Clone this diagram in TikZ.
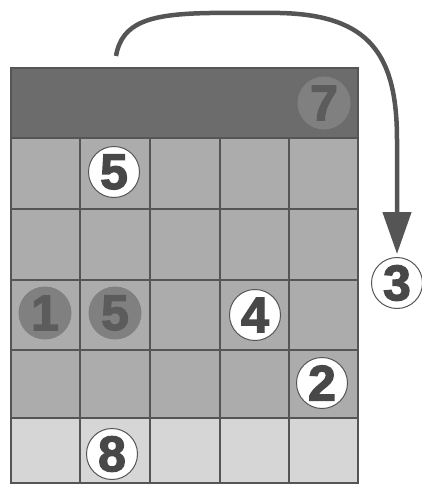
\documentclass[tikz,border=0pt]{standalone}
\usepackage{fontspec}
\setmainfont{Liberation Sans}
\newfontfamily\chipfont[FakeBold=2.5]{Liberation Sans Bold}
\usetikzlibrary{arrows.meta,positioning}
\definecolor{gridgray}{RGB}{85,85,85}
\definecolor{toprow}{RGB}{108,108,108}
\definecolor{midrow}{RGB}{172,172,172}
\definecolor{lowrow}{RGB}{214,214,214}
\definecolor{digitgray}{RGB}{72,72,72}
\definecolor{dimdot}{RGB}{128,128,128}
\definecolor{dimdigit}{RGB}{92,92,92}

\begin{document}
\begin{tikzpicture}[x=1pt,y=-1pt,
    every node/.style={font=\fontsize{50}{50}\selectfont\chipfont},
    chip/.style={circle,draw=gridgray,line width=1pt,fill=white,
                 minimum size=51pt,inner sep=0pt,text=digitgray},
    dimchip/.style={circle,fill=dimdot,minimum size=53pt,inner sep=0pt,
                    text=dimdigit}]
  \useasboundingbox (0,0) rectangle (421,487);
  % --- row fills (dark top row, grey body, light bottom row) ---
  \fill[toprow] (11,68)  rectangle (358,138);
  \fill[midrow] (11,138) rectangle (358,418);
  \fill[lowrow] (11,418) rectangle (358,483);
  % --- grid lines ---
  \foreach \x in {80,150,220,289}
    \draw[gridgray,line width=2.5pt] (\x,138) -- (\x,483);
  \foreach \y in {138,209,280,350,418}
    \draw[gridgray,line width=2.5pt] (11,\y) -- (358,\y);
  \draw[gridgray,line width=2.5pt] (11,68) rectangle (358,483);
  % --- numbered markers ---
  \node[dimchip] (n7)  at (324,103) {7};
  \node[chip]    (n5a) at (114,172) {5};
  \node[dimchip] (n1)  at (45,313)  {1};
  \node[dimchip] (n5b) at (115,313) {5};
  \node[chip]    (n4)  at (255,315) {4};
  \node[chip]    (n2)  at (322,383) {2};
  \node[chip]    (n8)  at (112,454) {8};
  \node[chip]    (n3)  at (397,283) {3};
  % --- curved arrow from above the grid down to 3 ---
  \coordinate (tail) at (116,56);
  \draw[gridgray,line width=4.5pt,-{Triangle[length=42pt,width=28pt]},shorten >=3pt]
    (tail) .. controls (122,22) and (150,14) .. (210,13) -- (280,13)
    .. controls (370,15) and (397,55) .. (397,140) -- (n3.north);
\end{tikzpicture}
\end{document}
